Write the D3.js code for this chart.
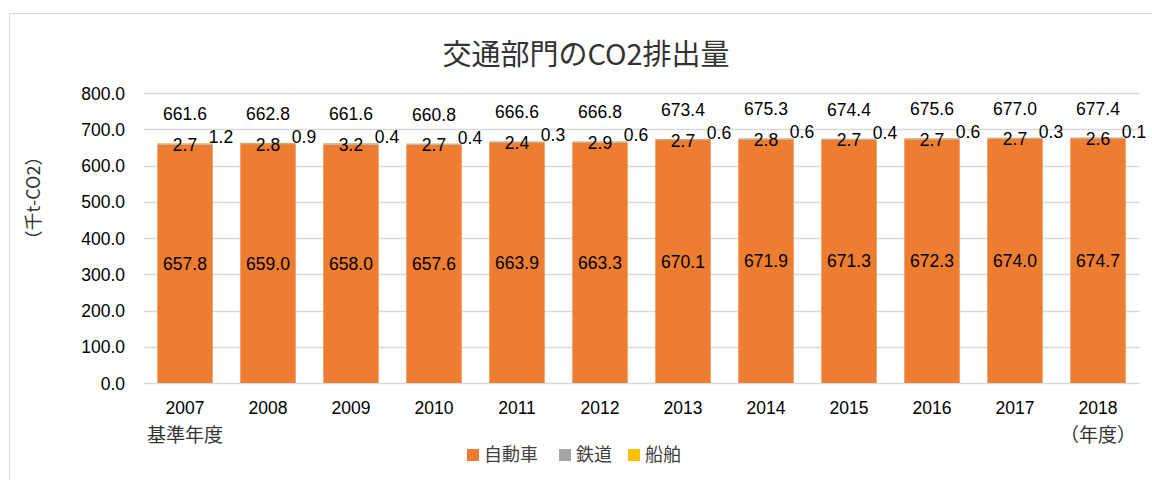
<!DOCTYPE html>
<html>
<head>
<meta charset="utf-8">
<script src="https://cdn.jsdelivr.net/npm/d3@7"></script>
<style>
  body { margin: 0; background: #fff; }
  svg text { font-family: "Liberation Sans", "Noto Sans CJK JP", sans-serif; fill: #000; }
  .cjk { font-family: "Noto Sans CJK JP", sans-serif !important; }
</style>
</head>
<body>
<svg id="chart" width="1152" height="480"></svg>
<script>
// データ
const years = ['2007', '2008', '2009', '2010', '2011', '2012', '2013', '2014', '2015', '2016', '2017', '2018'];
const car = [657.8, 659.0, 658.0, 657.6, 663.9, 663.3, 670.1, 671.9, 671.3, 672.3, 674.0, 674.7];
const rail = [2.7, 2.8, 3.2, 2.7, 2.4, 2.9, 2.7, 2.8, 2.7, 2.7, 2.7, 2.6];
const ship = [1.2, 0.9, 0.4, 0.4, 0.3, 0.6, 0.6, 0.6, 0.4, 0.6, 0.3, 0.1];
const totals = [661.6, 662.8, 661.6, 660.8, 666.6, 666.8, 673.4, 675.3, 674.4, 675.6, 677.0, 677.4];
const yTicks = [0, 100, 200, 300, 400, 500, 600, 700, 800];
const seriesNames = ['自動車', '鉄道', '船舶'];
const colors = ['#ED7D31', '#A5A5A5', '#FFC000'];

const svg = d3.select('#chart');

// 枠線
svg.append('path')
    .attr('d', 'M9.5,480 V13.5 H1152')
    .attr('fill', 'none')
    .attr('stroke', '#D9D9D9')
    .attr('stroke-width', 1);

const x = d3.scaleBand().domain(years).range([143.5, 1139.5]).paddingInner(0.333).paddingOuter(0.1665);
const y = d3.scaleLinear().domain([0, 800]).range([383, 93]);

// タイトル
svg.append('text')
    .attr('class', 'cjk')
    .attr('x', 586).attr('y', 65)
    .attr('text-anchor', 'middle')
    .style('font-size', '29px')
    .style('fill', '#333')
    .text('交通部門のCO2排出量');

// グリッド
svg.append('g')
    .selectAll('line')
    .data(yTicks)
    .join('line')
    .attr('x1', 143.5).attr('x2', 1139.5)
    .attr('y1', (d) => Math.round(y(d)) + 0.5)
    .attr('y2', (d) => Math.round(y(d)) + 0.5)
    .attr('stroke', '#D9D9D9')
    .attr('stroke-width', 1.5);

// Y軸
const yAxis = svg.append('g')
    .attr('transform', 'translate(125,0)')
    .call(d3.axisLeft(y).tickValues(yTicks).tickFormat(d3.format('.1f')).tickSize(0).tickPadding(0));
yAxis.select('.domain').remove();
yAxis.selectAll('text').style('font-size', '17.5px').attr('dy', '0.35em');

// Y軸タイトル
svg.append('text')
    .attr('class', 'cjk')
    .attr('transform', 'translate(40,198) rotate(-90)')
    .attr('text-anchor', 'middle')
    .style('font-size', '18px')
    .style('fill', '#333')
    .text('（千t-CO2）');

// 積み上げ
const rows = years.map((yr, i) => ({ year: yr, car: car[i], rail: rail[i], ship: ship[i] }));
const stack = d3.stack().keys(['car', 'rail', 'ship'])(rows);

svg.append('g')
    .selectAll('g')
    .data(stack)
    .join('g')
    .attr('fill', (d, i) => colors[i])
    .selectAll('rect')
    .data((d) => d)
    .join('rect')
    .attr('x', (d) => x(d.data.year))
    .attr('width', x.bandwidth())
    .attr('y', (d) => y(d[1]))
    .attr('height', (d) => y(d[0]) - y(d[1]));

// ラベル
const labels = svg.append('g').style('font-size', '17.5px');
labels.selectAll('.car')
    .data(stack[0])
    .join('text')
    .attr('x', (d) => x(d.data.year) + x.bandwidth() / 2)
    .attr('y', (d) => (y(d[0]) + y(d[1])) / 2)
    .attr('dy', '0.35em')
    .attr('text-anchor', 'middle')
    .text((d) => d3.format('.1f')(d.data.car));
labels.selectAll('.rail')
    .data(stack[1])
    .join('text')
    .attr('x', (d) => x(d.data.year) + x.bandwidth() / 2)
    .attr('y', (d) => (y(d[0]) + y(d[1])) / 2 + 1)
    .attr('dy', '0.35em')
    .attr('text-anchor', 'middle')
    .text((d) => d3.format('.1f')(d.data.rail));
labels.selectAll('.ship')
    .data(stack[2])
    .join('text')
    .attr('x', (d) => x(d.data.year) + x.bandwidth() / 2 + 36)
    .attr('y', (d) => y(d[1]) - 6)
    .attr('dy', '0.35em')
    .attr('text-anchor', 'middle')
    .text((d) => d3.format('.1f')(d.data.ship));
labels.selectAll('.total')
    .data(years)
    .join('text')
    .attr('x', (d) => x(d) + x.bandwidth() / 2)
    .attr('y', (d, i) => y(totals[i]) - 29)
    .attr('dy', '0.35em')
    .attr('text-anchor', 'middle')
    .text((d, i) => d3.format('.1f')(totals[i]));

// X軸
const xAxis = svg.append('g')
    .attr('transform', 'translate(0,383)')
    .call(d3.axisBottom(x).tickSize(0).tickPadding(19));
xAxis.select('.domain').remove();
xAxis.selectAll('text').style('font-size', '17.5px');
svg.append('text')
    .attr('class', 'cjk')
    .attr('x', x('2007') + x.bandwidth() / 2).attr('y', 442)
    .attr('text-anchor', 'middle')
    .style('font-size', '19px').style('fill', '#333')
    .text('基準年度');
svg.append('text')
    .attr('class', 'cjk')
    .attr('x', x('2018') + x.bandwidth() / 2).attr('y', 442)
    .attr('text-anchor', 'middle')
    .style('font-size', '19px').style('fill', '#333')
    .text('（年度）');

// 凡例
const legendX = [467, 559, 628];
const legend = svg.append('g')
    .selectAll('g')
    .data(seriesNames)
    .join('g')
    .attr('transform', (d, i) => `translate(${legendX[i]},449)`);
legend.append('rect').attr('width', 12).attr('height', 12).attr('fill', (d, i) => colors[i]);
legend.append('text')
    .attr('class', 'cjk')
    .attr('x', 17).attr('y', 6).attr('dy', '0.35em')
    .style('font-size', '18px').style('fill', '#404040')
    .text((d) => d);
</script>
</body>
</html>
